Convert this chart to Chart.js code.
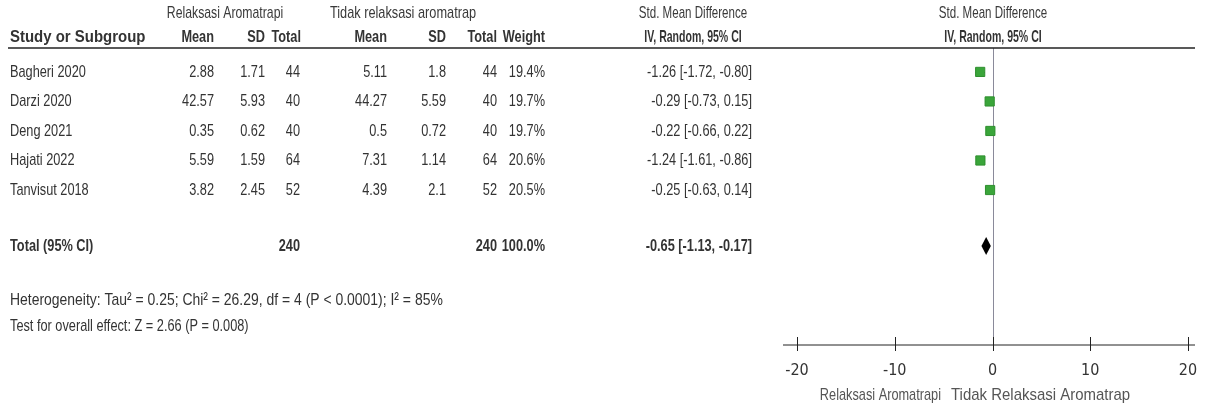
<!DOCTYPE html>
<html>
<head>
<meta charset="utf-8">
<script src="https://cdn.jsdelivr.net/npm/chart.js@4/dist/chart.umd.min.js"></script>
<style>
  body { margin: 0; background: #fff; }
  #wrap { width: 1206px; height: 405px; }
</style>
</head>
<body>
<div id="wrap"><canvas id="forestChart"></canvas></div>
<script>
// study rows of the forest plot
var studies = ["Bagheri 2020", "Darzi 2020", "Deng 2021", "Hajati 2022", "Tanvisut 2018"];
var mean1 = [2.88, 42.57, 0.35, 5.59, 3.82];
var sd1 = [1.71, 5.93, 0.62, 1.59, 2.45];
var n1 = [44, 40, 40, 64, 52];
var mean2 = [5.11, 44.27, 0.5, 7.31, 4.39];
var sd2 = [1.8, 5.59, 0.72, 1.14, 2.1];
var n2 = [44, 40, 40, 64, 52];
var weight = [19.4, 19.7, 19.7, 20.6, 20.5];
var smd = [-1.26, -0.29, -0.22, -1.24, -0.25];
var ciLow = [-1.72, -0.73, -0.66, -1.61, -0.63];
var ciHigh = [-0.80, 0.15, 0.22, -0.86, 0.14];

// pooled result
var totalN1 = 240;
var totalN2 = 240;
var totalWeight = 100.0;
var totalSmd = -0.65;
var totalLow = -1.13;
var totalHigh = -0.17;

var xTicks = [-20, -10, 0, 10, 20];

var FONT = '"Liberation Sans", Arial, sans-serif';
var NARROW = 0.75; // the original uses a squeezed font
var totalRow = 5.9;

function fmtCI(v, lo, hi) {
  return v.toFixed(2) + " [" + lo.toFixed(2) + ", " + hi.toFixed(2) + "]";
}

// write squeezed text, like a narrow font
function txt(ctx, s, x, y, align, bold, color, sx, size) {
  ctx.save();
  ctx.font = (bold ? "bold " : "") + (size || 17) + "px " + FONT;
  ctx.fillStyle = color || "#333";
  ctx.textAlign = align;
  ctx.textBaseline = "middle";
  ctx.translate(x, y);
  ctx.scale(sx || NARROW, 1);
  ctx.fillText(s, 0, 0);
  ctx.restore();
}

// draws the table, the whiskers, the diamond and the axis line
var forestTable = {
  id: "forestTable",
  beforeDatasetsDraw: function (chart) {
    var ctx = chart.ctx;
    var x = chart.scales.x;
    var y = chart.scales.y;
    ctx.save();
    // line of no effect
    ctx.strokeStyle = "#8a8a9a";
    ctx.lineWidth = 1;
    ctx.beginPath();
    ctx.moveTo(Math.round(x.getPixelForValue(0)) + 0.5, 48);
    ctx.lineTo(Math.round(x.getPixelForValue(0)) + 0.5, 345);
    ctx.stroke();
    // confidence intervals
    ctx.strokeStyle = "#111";
    for (var i = 0; i < studies.length; i++) {
      var py = Math.round(y.getPixelForValue(i)) + 0.5;
      ctx.beginPath();
      ctx.moveTo(x.getPixelForValue(ciLow[i]), py);
      ctx.lineTo(x.getPixelForValue(ciHigh[i]), py);
      ctx.stroke();
    }
    ctx.restore();
  },
  afterDraw: function (chart) {
    var ctx = chart.ctx;
    var x = chart.scales.x;
    var y = chart.scales.y;
    ctx.save();

    // pooled diamond
    var ty = y.getPixelForValue(totalRow);
    ctx.fillStyle = "#000";
    ctx.beginPath();
    ctx.moveTo(x.getPixelForValue(totalLow), ty);
    ctx.lineTo(x.getPixelForValue(totalSmd), ty - 9);
    ctx.lineTo(x.getPixelForValue(totalHigh), ty);
    ctx.lineTo(x.getPixelForValue(totalSmd), ty + 9);
    ctx.closePath();
    ctx.fill();

    // header rule
    ctx.strokeStyle = "#222";
    ctx.lineWidth = 1.5;
    ctx.beginPath();
    ctx.moveTo(8, 48);
    ctx.lineTo(1195, 48);
    ctx.stroke();

    // axis line with ticks
    ctx.beginPath();
    ctx.moveTo(783, 345);
    ctx.lineTo(1195, 345);
    xTicks.forEach(function (t) {
      var px = Math.round(x.getPixelForValue(t)) + 0.5;
      ctx.moveTo(px, 337);
      ctx.lineTo(px, 351);
    });
    ctx.lineWidth = 1;
    ctx.stroke();
    ctx.restore();

    // group headers
    txt(ctx, "Relaksasi Aromatrapi", 225, 13, "center", false, "#3a3a3a", 0.72);
    txt(ctx, "Tidak relaksasi aromatrap", 403, 13, "center", false, "#3a3a3a", 0.75);
    txt(ctx, "Std. Mean Difference", 693, 13, "center", false, "#3a3a3a", 0.68);
    txt(ctx, "Std. Mean Difference", 993, 13, "center", false, "#3a3a3a", 0.68);

    // column headers
    txt(ctx, "Study or Subgroup", 10, 37, "left", true, "#333", 0.88);
    txt(ctx, "Mean", 214, 37, "right", true);
    txt(ctx, "SD", 265, 37, "right", true);
    txt(ctx, "Total", 301, 37, "right", true);
    txt(ctx, "Mean", 387, 37, "right", true);
    txt(ctx, "SD", 446, 37, "right", true);
    txt(ctx, "Total", 497, 37, "right", true);
    txt(ctx, "Weight", 545, 37, "right", true);
    txt(ctx, "IV, Random, 95% CI", 693, 37, "center", true, "#333", 0.62);
    txt(ctx, "IV, Random, 95% CI", 993, 37, "center", true, "#333", 0.62);

    // study rows
    for (var i = 0; i < studies.length; i++) {
      var py = y.getPixelForValue(i);
      txt(ctx, studies[i], 10, py, "left");
      txt(ctx, String(mean1[i]), 214, py, "right");
      txt(ctx, String(sd1[i]), 265, py, "right");
      txt(ctx, String(n1[i]), 300, py, "right");
      txt(ctx, String(mean2[i]), 387, py, "right");
      txt(ctx, String(sd2[i]), 446, py, "right");
      txt(ctx, String(n2[i]), 497, py, "right");
      txt(ctx, weight[i].toFixed(1) + "%", 545, py, "right");
      txt(ctx, fmtCI(smd[i], ciLow[i], ciHigh[i]), 752, py, "right");
    }

    // total row
    txt(ctx, "Total (95% CI)", 10, ty, "left", true);
    txt(ctx, String(totalN1), 300, ty, "right", true);
    txt(ctx, String(totalN2), 497, ty, "right", true);
    txt(ctx, totalWeight.toFixed(1) + "%", 545, ty, "right", true);
    txt(ctx, fmtCI(totalSmd, totalLow, totalHigh), 752, ty, "right", true);

    // footnotes
    txt(ctx, "Heterogeneity: Tau\u00b2 = 0.25; Chi\u00b2 = 26.29, df = 4 (P < 0.0001); I\u00b2 = 85%", 10, 300, "left", false, "#333", 0.82);
    txt(ctx, "Test for overall effect: Z = 2.66 (P = 0.008)", 10, 326, "left");

    // favours labels
    txt(ctx, "Relaksasi Aromatrapi", 941, 395, "right", false, "#555");
    txt(ctx, "Tidak Relaksasi Aromatrap", 951, 395, "left", false, "#555", 0.88);
  }
};

var forestCtx = document.getElementById("forestChart").getContext("2d");

var forestChart = new Chart(forestCtx, {
  type: "scatter",
  data: {
    datasets: [
      {
        label: "Std. Mean Difference",
        data: smd.map(function (v, i) { return { x: v, y: i }; }),
        pointStyle: "rect",
        pointRadius: 6.5,
        backgroundColor: "#3aa53a",
        borderColor: "#2f8f2f",
        borderWidth: 1,
      },
    ],
  },
  options: {
    responsive: true,
    maintainAspectRatio: false,
    animation: false,
    layout: { padding: { left: 797, right: 18, top: 48, bottom: 0 } },
    plugins: {
      legend: { display: false },
      tooltip: { enabled: false },
    },
    scales: {
      x: {
        type: "linear",
        min: -20,
        max: 20,
        afterBuildTicks: function (s) {
          s.ticks = xTicks.map(function (v) { return { value: v }; });
        },
        afterFit: function (s) {
          s.height = 60;
        },
        grid: { display: false },
        border: { display: false },
        ticks: {
          padding: 8,
          color: "#333",
          font: { family: '"DejaVu Sans Condensed", sans-serif', size: 16 },
        },
      },
      y: {
        type: "linear",
        display: false,
        reverse: true,
        min: -0.81,
        max: 9.25,
      },
    },
  },
  plugins: [forestTable],
});
</script>
</body>
</html>
